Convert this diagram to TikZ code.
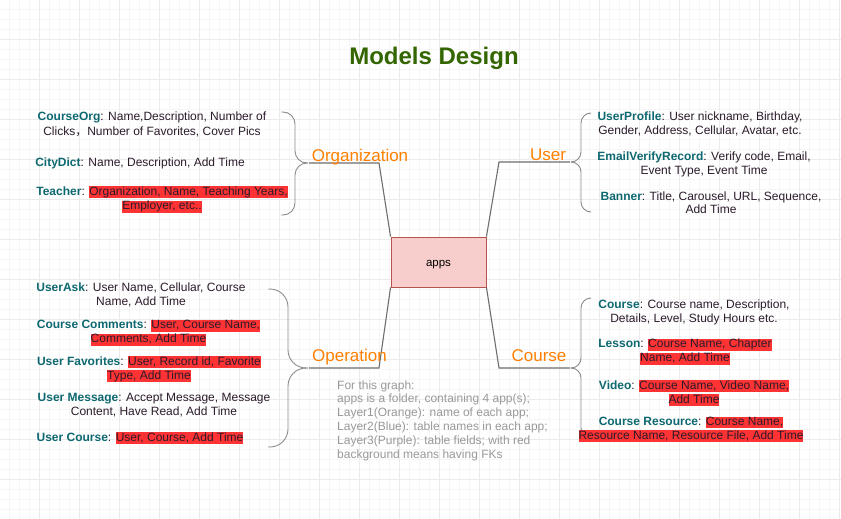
\documentclass[tikz,border=0pt]{standalone}
\usepackage{fontspec}
\setmainfont{Liberation Sans}
\newfontfamily\cjkfont{Noto Sans CJK SC}
\definecolor{gridmajor}{HTML}{EBEBEB}
\definecolor{gridminor}{HTML}{F6F6F6}
\definecolor{titlecol}{HTML}{336600}
\definecolor{orangecol}{HTML}{FF8000}
\definecolor{namecol}{HTML}{0D6870}
\definecolor{fieldcol}{HTML}{2B1B2B}
\definecolor{hlred}{HTML}{FF3333}
\definecolor{notecol}{HTML}{999999}
\definecolor{appfill}{HTML}{F8CECC}
\definecolor{appdraw}{HTML}{B85450}
\definecolor{bracecol}{HTML}{8C8C8C}
\definecolor{edgecol}{HTML}{6E6E6E}
\newcommand\nm[1]{\textbf{\color{namecol}#1}}
\newcommand\redbg[1]{{\setlength{\fboxsep}{0pt}\colorbox{hlred}{\rule[-3.1pt]{0pt}{11.1pt}#1}}}
\newcommand\tline[4]{\node[tl] (#1) at (#2,#3) {#4};}
\newcommand\nline[3]{\node[notetxt] (#1) at (337,#2) {#3};}
\begin{document}
\begin{tikzpicture}[x=1pt,y=-1pt,
  tl/.style={anchor=base,inner sep=0pt,text=fieldcol,font=\fontsize{12}{14}\selectfont},
  notetxt/.style={anchor=base west,inner sep=0pt,text=notecol,font=\fontsize{12}{14}\selectfont},
  applabel/.style={anchor=base,inner sep=0pt,text=orangecol,font=\fontsize{17}{20}\selectfont},
  brace/.style={draw=bracecol,line width=0.9pt},
  edge/.style={draw=edgecol,line width=1.1pt},
  appbox/.style={draw=appdraw,fill=appfill,line width=0.9pt,minimum width=95pt,minimum height=50pt,inner sep=0pt},
  apptext/.style={anchor=base,inner sep=0pt,font=\fontsize{11.5}{13}\selectfont,text=black}]
\useasboundingbox (0,0) rectangle (841,519);
\fill[white] (0,0) rectangle (841,519);
% grid
\foreach \i in {0,...,84} \draw[gridminor,line width=1pt] ({\i*10-0.5},0) -- ({\i*10-0.5},519);
\foreach \i in {0,...,52} \draw[gridminor,line width=1pt] (0,{\i*10-0.5}) -- (841,{\i*10-0.5});
\foreach \i in {1,...,21} \draw[gridmajor,line width=1pt] ({\i*40-0.5},0) -- ({\i*40-0.5},519);
\foreach \i in {1,...,13} \draw[gridmajor,line width=1pt] (0,{\i*40-0.5}) -- (841,{\i*40-0.5});
% title
\node[anchor=base,inner sep=0pt,text=titlecol,font=\fontsize{24}{28}\selectfont\bfseries] (title) at (434,65) {Models Design};
% braces
\draw[brace,rounded corners=12pt] (281,112) -- (295,112) -- (295,163) -- (308,163);
\draw[brace,rounded corners=12pt] (281,215) -- (295,215) -- (295,163) -- (308,163);
\draw[brace,rounded corners=10pt] (591,113) -- (581,113) -- (581,162) -- (571,162);
\draw[brace,rounded corners=10pt] (591,212) -- (581,212) -- (581,162) -- (571,162);
\draw[brace,rounded corners=18pt] (268,289) -- (288,289) -- (288,368) -- (308,368);
\draw[brace,rounded corners=18pt] (268,447) -- (288,447) -- (288,368) -- (308,368);
\draw[brace,rounded corners=10pt] (591,298) -- (581,298) -- (581,368) -- (571,368);
\draw[brace,rounded corners=10pt] (591,438) -- (581,438) -- (581,368) -- (571,368);
% apps box
\node[appbox] (apps) at (438.5,262) {};
\node[apptext] (appslabel) at (438.5,266) {apps};
\coordinate (orgbend) at (379,163);
\coordinate (orgend) at (309,163);
\coordinate (userbend) at (499,162);
\coordinate (userend) at (570,162);
\coordinate (opbend) at (379,368);
\coordinate (opend) at (309,368);
\coordinate (crsbend) at (499,368);
\coordinate (crsend) at (570,368);
\draw[edge] (apps.north west) -- (orgbend) -- (orgend);
\draw[edge] (apps.north east) -- (userbend) -- (userend);
\draw[edge] (apps.south west) -- (opbend) -- (opend);
\draw[edge] (apps.south east) -- (crsbend) -- (crsend);
% app labels
\node[applabel] (lorg) at (360,161) {Organization};
\node[applabel] (luser) at (548,160) {User};
\node[applabel] (lop) at (349.5,361) {Operation};
\node[applabel] (lcrs) at (539,361) {Course};
% Organization tables
\tline{orga}{152}{120}{\nm{CourseOrg}: Name,Description, Number of}
\tline{orgb}{152}{135}{Clicks{\cjkfont ，}Number of Favorites, Cover Pics}
\tline{orgc}{140}{166}{\nm{CityDict}: Name, Description, Add Time}
\tline{orgd}{162}{195}{\nm{Teacher}: \redbg{Organization, Name, Teaching Years,}}
\tline{orge}{162}{209.5}{\redbg{Employer, etc..}}
% User tables
\tline{usra}{700}{120}{\nm{UserProfile}: User nickname, Birthday,}
\tline{usrb}{700}{134}{Gender, Address, Cellular, Avatar, etc.}
\tline{usrc}{704}{160}{\nm{EmailVerifyRecord}: Verify code, Email,}
\tline{usrd}{704}{174}{Event Type, Event Time}
\tline{usre}{711}{200}{\nm{Banner}: Title, Carousel, URL, Sequence,}
\tline{usrf}{711}{213.5}{Add Time}
% Operation tables
\tline{opa}{141}{291}{\nm{UserAsk}: User Name, Cellular, Course}
\tline{opb}{141}{305}{Name, Add Time}
\tline{opc}{148.5}{328.5}{\nm{Course Comments}: \redbg{User, Course Name,}}
\tline{opd}{148.5}{342.5}{\redbg{Comments, Add Time}}
\tline{ope}{149}{365}{\nm{User Favorites}: \redbg{User, Record id, Favorite}}
\tline{opf}{149}{379}{\redbg{Type, Add Time}}
\tline{opg}{154}{401}{\nm{User Message}: Accept Message, Message}
\tline{oph}{154}{415}{Content, Have Read, Add Time}
\tline{opi}{140}{441}{\nm{User Course}: \redbg{User, Course, Add Time}}
% Course tables
\tline{crsa}{694}{308}{\nm{Course}: Course name, Description,}
\tline{crsb}{694}{322}{Details, Level, Study Hours etc.}
\tline{crsc}{685}{347.5}{\nm{Lesson}: \redbg{Course Name, Chapter}}
\tline{crsd}{685}{361.5}{\redbg{Name, Add Time}}
\tline{crse}{694}{389}{\nm{Video}: \redbg{Course Name, Video Name,}}
\tline{crsf}{694}{403}{\redbg{Add Time}}
\tline{crsg}{691}{425}{\nm{Course Resource}: \redbg{Course Name,}}
\tline{crsh}{691}{439}{\redbg{Resource Name, Resource File, Add Time}}
% note
\nline{notea}{389}{For this graph:}
\nline{noteb}{402.8}{apps is a folder, containing 4 app(s);}
\nline{notec}{416.6}{Layer1(Orange): name of each app;}
\nline{noted}{430.4}{Layer2(Blue): table names in each app;}
\nline{notee}{444.2}{Layer3(Purple): table fields; with red}
\nline{notef}{458}{background means having FKs}
\end{tikzpicture}
\end{document}
